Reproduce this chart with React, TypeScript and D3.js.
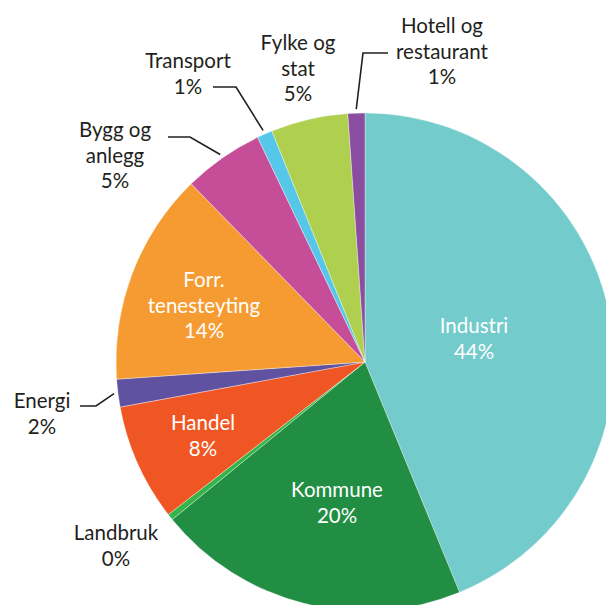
import { arc, pie } from 'd3'

const categories = [
  'Industri',
  'Kommune',
  'Landbruk',
  'Handel',
  'Energi',
  'Forr. tenesteyting',
  'Bygg og anlegg',
  'Transport',
  'Fylke og stat',
  'Hotell og restaurant',
]
const shares = [43.8, 20.3, 0.4, 7.6, 1.8, 13.8, 5.2, 1.0, 5.0, 1.1]
const percentLabels = ['44%', '20%', '0%', '8%', '2%', '14%', '5%', '1%', '5%', '1%']
const colors = [
  '#73cbcc',
  '#218e43',
  '#35b44a',
  '#f05623',
  '#5f52a0',
  '#f69b31',
  '#c64d98',
  '#56c7e8',
  '#afd04e',
  '#8b4da0',
]

const width = 606
const height = 605
const cx = 365
const cy = 362
const radius = 249
const lineHeight = 25.5

type LabelLayout = {
  lines: string[]
  x: number
  y: number
  inside: boolean
  leader?: [number, number][]
}

// text anchors (first baseline) and leader elbows
const labelLayout: Record<string, LabelLayout> = {
  Industri: { lines: ['Industri'], x: 474, y: 333, inside: true },
  Kommune: { lines: ['Kommune'], x: 337, y: 497, inside: true },
  Landbruk: { lines: ['Landbruk'], x: 116, y: 540, inside: false },
  Handel: { lines: ['Handel'], x: 203, y: 430, inside: true },
  Energi: { lines: ['Energi'], x: 42, y: 408, inside: false, leader: [[96, 406], [80, 406]] },
  'Forr. tenesteyting': { lines: ['Forr.', 'tenesteyting'], x: 204, y: 287, inside: true },
  'Bygg og anlegg': {
    lines: ['Bygg og', 'anlegg'],
    x: 115,
    y: 137,
    inside: false,
    leader: [[190, 137], [168, 137]],
  },
  Transport: { lines: ['Transport'], x: 188, y: 68, inside: false, leader: [[236, 87], [213, 87]] },
  'Fylke og stat': { lines: ['Fylke og', 'stat'], x: 298, y: 50, inside: false },
  'Hotell og restaurant': {
    lines: ['Hotell og', 'restaurant'],
    x: 442,
    y: 33,
    inside: false,
    leader: [[363, 53], [388, 53]],
  },
}

const items = categories.map((name, i) => ({
  name,
  value: shares[i],
  percent: percentLabels[i],
  color: colors[i],
}))

type Item = (typeof items)[number]

function App() {
  const slices = pie<Item>()
    .sort(null)
    .value((d) => d.value)(items)

  const sliceArc = arc<any>().innerRadius(0).outerRadius(radius)
  const leaderArc = arc<any>().innerRadius(radius + 4).outerRadius(radius + 4)

  return (
    <svg
      width={width}
      height={height}
      viewBox={`0 0 ${width} ${height}`}
      style={{ position: 'absolute', left: 0, top: 0, background: '#fff' }}
      fontFamily="Lato, 'Open Sans', sans-serif"
      fontSize={20.5}
    >
      <g transform={`translate(${cx}, ${cy})`}>
        {slices.map((s) => (
          <path
            key={s.data.name}
            d={sliceArc(s) ?? ''}
            fill={s.data.color}
            stroke="#ffffff"
            strokeWidth={0.6}
            strokeOpacity={0.6}
          />
        ))}
      </g>

      {slices.map((s) => {
        const layout = labelLayout[s.data.name]
        if (!layout.leader) return null
        const mid = (s.startAngle + s.endAngle) / 2
        const [sx, sy] = leaderArc.centroid({ startAngle: mid, endAngle: mid })
        const points: [number, number][] = [[cx + sx, cy + sy], ...layout.leader]

        return (
          <polyline
            key={`${s.data.name}-leader`}
            points={points.map((p) => p.join(',')).join(' ')}
            fill="none"
            stroke="#231f20"
            strokeWidth={1.6}
          />
        )
      })}

      {slices.map((s) => {
        const layout = labelLayout[s.data.name]
        const lines = [...layout.lines, s.data.percent]

        return (
          <text
            key={`${s.data.name}-label`}
            x={layout.x}
            y={layout.y}
            textAnchor="middle"
            fill={layout.inside ? '#ffffff' : '#231f20'}
          >
            {lines.map((line, i) => (
              <tspan key={line + i} x={layout.x} y={layout.y + i * lineHeight}>
                {line}
              </tspan>
            ))}
          </text>
        )
      })}
    </svg>
  )
}

export default App
